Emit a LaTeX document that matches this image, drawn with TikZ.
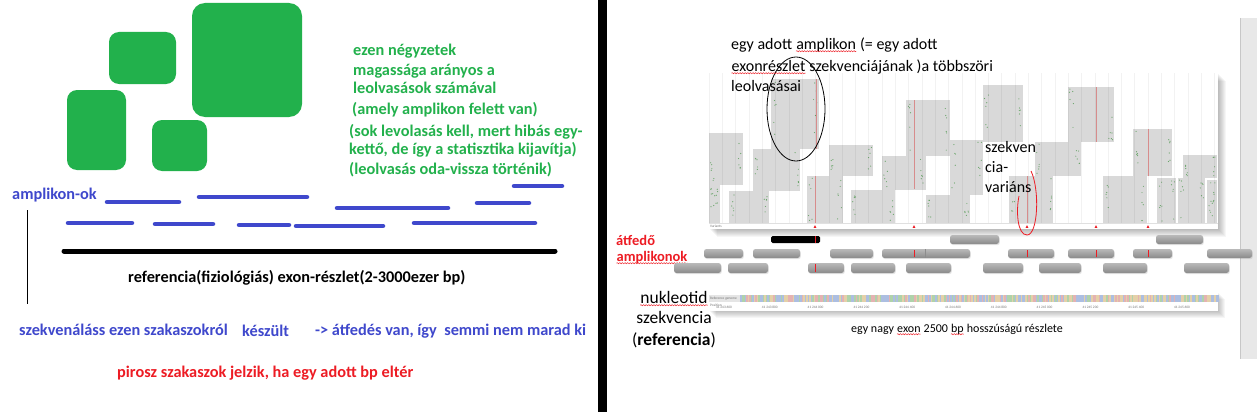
\documentclass[tikz,border=0pt]{standalone}
\usepackage{fontspec}
\setmainfont{Carlito}
\usetikzlibrary{shadows, decorations.pathmorphing}

\definecolor{paintgreen}{RGB}{34,177,76}
\definecolor{paintblue}{RGB}{63,72,204}
\definecolor{paintred}{RGB}{237,28,36}
\definecolor{readgray}{RGB}{217,217,217}
\definecolor{dotgreen}{RGB}{105,165,105}
\definecolor{varred}{RGB}{215,140,140}
\definecolor{barlight}{RGB}{185,185,185}
\definecolor{bardark}{RGB}{138,138,138}
\definecolor{stripgray}{RGB}{232,232,232}
\definecolor{nucA}{RGB}{175,210,170}
\definecolor{nucC}{RGB}{172,190,225}
\definecolor{nucG}{RGB}{228,208,168}
\definecolor{nucT}{RGB}{228,178,178}

\newcommand\spellwave[1]{\tikz[baseline=(w.base)]{\node[inner sep=0pt] (w) {#1};
  \draw[paintred, line width=0.45pt, decorate, decoration={snake, amplitude=0.6pt, segment length=2.6pt}]
    ([yshift=-2.2pt]w.base west) -- ([yshift=-2.2pt]w.base east);}}

\tikzset{
  greenbox/.style={fill=paintgreen, rounded corners=#1},
  ampline/.style={draw=paintblue, line width=4.5pt, line cap=round},
  boldtxt/.style={anchor=base west, inner sep=0pt, font=\fontsize{16.3}{18}\selectfont\bfseries},
  greentxt/.style={boldtxt, text=paintgreen},
  bluetxt/.style={boldtxt, text=paintblue},
  notetxt/.style={anchor=base west, inner sep=0pt, font=\fontsize{16}{18}\selectfont},
  readblock/.style={fill=readgray},
  ampbar/.style={rounded corners=2.5pt, top color=barlight, bottom color=bardark,
    drop shadow={opacity=0.2, shadow xshift=0.8pt, shadow yshift=-1.2pt}},
  tinytxt/.style={inner sep=0pt, text=black!55, font=\fontsize{3.5}{4}\selectfont},
}

\begin{document}
\begin{tikzpicture}[x=1pt, y=-1pt]
\useasboundingbox (0,0) rectangle (1257,412);
\fill[white] (0,0) rectangle (1257,412);
% left panel: read counts
\fill[greenbox=13pt] (192,3) rectangle (302,117);
\fill[greenbox=10pt] (109,32) rectangle (176,84);
\fill[greenbox=10pt] (67,90) rectangle (126,170);
\fill[greenbox=10pt] (152,120) rectangle (207,171);
\node[greentxt] (sq1) at (353,56) {ezen négyzetek};
\node[greentxt] (sq2) at (353,75) {magassága arányos a};
\node[greentxt] (sq3) at (353,93) {leolvasások számával};
\node[greentxt] (sq4) at (352,114) {(amely amplikon felett van)};
\node[greentxt] (sq5) at (349,136) {(sok levolasás kell, mert hibás egy-};
\node[greentxt] (sq6) at (349,154) {kettő, de így a statisztika kijavítja)};
\node[greentxt] (sq7) at (349,174) {(leolvasás oda-vissza történik)};
%
\node[bluetxt] (amplok) at (12,199) {amplikon-ok};
\foreach \xa/\xb/\yy in {107/179/202, 199/307/197, 514/562/186, 477/529/203,
    337/448/208, 68/132/223, 155/213/224, 239/289/225, 296/383/226, 414/535/223}
  \draw[ampline] (\xa,\yy) -- (\xb,\yy);
\draw[line width=5pt, line cap=round] (64,251) -- (555,251);
\draw[line width=0.8pt] (27,210) -- (27,304);
\node[boldtxt] (reftxt) at (128,282) {referencia(fiziológiás) exon-részlet(2-3000ezer bp)};
\node[bluetxt] (szek) at (19,335) {szekvenáláss ezen szakaszokról};
\node[bluetxt] (kesz) at (242,336) {készült};
\node[bluetxt] (atfed) at (315,335) {-> átfedés van, így\ \ semmi nem marad ki};
\node[boldtxt, text=paintred] (piros) at (117,377) {pirosz szakaszok jelzik, ha egy adott bp eltér};
% divider
\fill[black] (598,0) rectangle (607,412);
% right panel
\fill[stripgray] (1240,18) rectangle (1257,359);
\draw[black!22] (1240.5,18) -- (1240.5,359);
\foreach \b in {1,...,8}
  \fill[black, opacity=0.035] (709+\b,73+\b) rectangle (1218+\b,229+\b);
\fill[white] (709,73) rectangle (1218,229);
\pgfmathsetseed{11}
\foreach \xa/\ya/\xb/\yb in {709/133/743/185, 709/185/720/223, 729/191/769/223,
    753/149/800/191, 771/79/819/149, 807/176/843/223, 829/145/873/176,
    851/190/895/223, 882/156/926/190, 906/100/950/156, 926/195/970/223,
    950/140/983/195, 983/85/1023/142, 1009/176/1053/223, 1035/142/1081/176,
    1068/87/1114/142, 1103/176/1147/223, 1133/129/1172/176, 1157/178/1176/223,
    1178/178/1205/223, 1183/155/1217/178, 1207/180/1217/223} {
  \fill[readblock] (\xa,\ya) rectangle (\xb,\yb);
  \foreach \k in {1,...,6} {
    \pgfmathsetmacro\dotx{\xa+1.5+4*rnd}
    \pgfmathsetmacro\doty{\ya+2+(\yb-\ya-4)*rnd}
    \fill[dotgreen] (\dotx,\doty) circle (0.6);
    \pgfmathsetmacro\dotx{\xb-1.5-4*rnd}
    \pgfmathsetmacro\doty{\ya+2+(\yb-\ya-4)*rnd}
    \fill[dotgreen] (\dotx,\doty) circle (0.6);
  }
}
\foreach \gx in {0,...,38}
  \draw[black, opacity=0.05, line width=0.4pt] (709+13.3*\gx,73) -- (709+13.3*\gx,223);
\foreach \vx/\ya/\yb in {816/79/149, 815/176/223, 914/100/189, 1096/87/142, 1148/129/176, 1027/176/223}
  \draw[varred, line width=0.6pt] (\vx,\ya) -- (\vx,\yb);
\draw[black!12] (709,223.5) -- (1218,223.5);
\node[tinytxt, anchor=west] (vartrack) at (710,226.5) {Variants};
\foreach \vx in {815, 914, 1027, 1096, 1148}
  \fill[paintred] (\vx-1.3,227.8) -- (\vx+1.3,227.8) -- (\vx,225.2) -- cycle;
% annotations on reads
\draw[line width=0.8pt] (796,109) ellipse [x radius=29, y radius=52];
\draw[paintred, line width=0.8pt] (1031,171) .. controls (1040,190) and (1038,235) .. (1027,235)
  .. controls (1017,235) and (1016,210) .. (1019,196);
\node[notetxt] (read1) at (731,49) {egy adott \spellwave{amplikon} (= egy adott};
\node[notetxt] (read2) at (731,71) {\spellwave{exonrészlet} szekvenciájának )a többszöri};
\node[notetxt] (read3) at (731,92) {leolvasásai};
\node[notetxt] (var1) at (985,152) {szekven};
\node[notetxt] (var2) at (985,172) {cia-};
\node[notetxt] (var3) at (985,192) {variáns};
% overlapping amplicons
\node[boldtxt, text=paintred, font=\fontsize{14.5}{16}\selectfont\bfseries] (atf1) at (616,245) {átfedő};
\node[boldtxt, text=paintred, font=\fontsize{14.5}{16}\selectfont\bfseries] (atf2) at (616,261) {\spellwave{amplikonok}};
\fill[black, rounded corners=1.5pt] (771,236) rectangle (820,243);
\foreach \xa/\xb in {950/999, 1156/1203}
  \shade[ampbar] (\xa,235) rectangle (\xb,244);
\foreach \xa/\xb in {704/743, 753/800, 830/873, 882/970, 1008/1054, 1068/1114, 1133/1172, 1207/1252}
  \shade[ampbar] (\xa,249) rectangle (\xb,258);
\foreach \xa/\xb in {674/721, 728/768, 808/844, 851/895, 906/951, 983/1023, 1039/1081, 1103/1147, 1184/1229}
  \shade[ampbar] (\xa,263) rectangle (\xb,273);
\draw[black!45, line width=0.8pt] (925,249) -- (925,258);
\foreach \tx/\ya/\yb in {815/236/243, 914/250/257, 1027/250/257, 1096/250/257, 1148/250/257, 815/264/272}
  \draw[paintred, line width=1pt] (\tx,\ya) -- (\tx,\yb);
% reference sequence
\foreach \b in {1,...,7}
  \fill[black, opacity=0.035] (709+\b,292+\b) rectangle (1218+\b,311+\b);
\fill[white] (709,292) rectangle (1218,311);
\pgfmathsetseed{5}
\foreach \s in {0,...,318} {
  \pgfmathrandominteger{\nt}{1}{4}
  \ifcase\nt\or\def\ntcol{nucA}\or\def\ntcol{nucC}\or\def\ntcol{nucG}\or\def\ntcol{nucT}\fi
  \fill[\ntcol] (740+1.5*\s,295) rectangle ++(1.5,7);
}
\fill[black!10] (709,295) rectangle (740,302);
\node[tinytxt, anchor=west] (refgen) at (710,298.5) {Reference genome};
\node[tinytxt, anchor=west] (postrack) at (710,305) {Position};
\foreach \lab [count=\i from 0] in {41 243 600, 41 243 800, 41 244 000, 41 244 200, 41 244 400,
    41 244 600, 41 244 800, 41 245 000, 41 245 200, 41 245 400, 41 245 600}
  \node[tinytxt] (pos\i) at (724+45.8*\i,307.5) {\lab};
\node[anchor=base, inner sep=0pt, font=\fontsize{17.5}{19}\selectfont] (nuk1) at (674,303) {\spellwave{nukleotid}};
\node[anchor=base, inner sep=0pt, font=\fontsize{17.5}{19}\selectfont] (nuk2) at (674,323) {szekvencia};
\node[anchor=base, inner sep=0pt, font=\fontsize{17.5}{19}\selectfont] (nuk3) at (674,345) {(\textbf{referencia})};
\node[anchor=base west, inner sep=0pt, font=\fontsize{12}{14}\selectfont] (exoncap) at (851,332)
  {egy nagy \spellwave{exon} 2500 \spellwave{bp} hosszúságú részlete};
\end{tikzpicture}
\end{document}
